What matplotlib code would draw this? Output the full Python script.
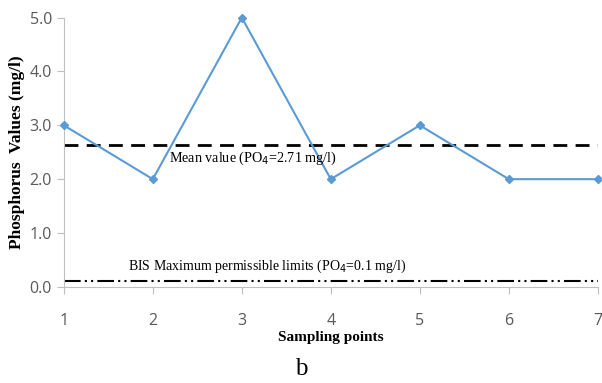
import matplotlib.pyplot as plt

points = [1, 2, 3, 4, 5, 6, 7]
phosphorus = [3.0, 2.0, 5.0, 2.0, 3.0, 2.0, 2.0]
mean_line = 2.63
bis_limit = 0.1
yticks = [0.0, 1.0, 2.0, 3.0, 4.0, 5.0]

fig = plt.figure(figsize=(6.02, 3.83), dpi=100)
ax = fig.add_axes([0.106, 0.251, 0.887, 0.703])

ax.plot(points, phosphorus, color='#5B9BD5', lw=1.5, marker='D', ms=4, clip_on=False, zorder=3)
ax.axhline(mean_line, color='black', lw=2, ls=(0, (5, 3)))
ax.axhline(bis_limit, color='black', lw=1.5, ls=(0, (8, 2, 1, 2, 1, 2)))

ax.text(2.18, mean_line - 0.08, 'Mean value (PO$_4$=2.71 mg/l)', family='Liberation Serif',
        fontsize=10.2, va='top', ha='left')
ax.text(1.72, 0.22, 'BIS Maximum permissible limits (PO$_4$=0.1 mg/l)', family='Liberation Serif',
        fontsize=10, va='bottom', ha='left')

ax.set_xlim(1, 7)
ax.set_ylim(0, 5)
ax.set_xticks(points)
ax.set_yticks(yticks)
ax.set_yticklabels([f'{v:.1f}' for v in yticks])
for s in ['top', 'right']:
    ax.spines[s].set_visible(False)
for s in ['left', 'bottom']:
    ax.spines[s].set_color('#BFBFBF')
ax.tick_params(axis='both', colors='#BFBFBF', labelcolor='#595959', labelsize=11.5, length=5)
ax.tick_params(axis='x', pad=14)
for lab in ax.get_xticklabels() + ax.get_yticklabels():
    lab.set_family('Open Sans')

ax.set_xlabel('Sampling points', family='Liberation Serif', fontweight='bold', fontsize=11, labelpad=1)
ax.set_ylabel('Phosphorus  Values (mg/l)', family='Liberation Serif', fontweight='bold', fontsize=12.5, labelpad=3)
fig.text(0.5, 0.02, 'b', family='Liberation Serif', fontsize=18, ha='center')

fig.savefig('out.png', dpi=100)
